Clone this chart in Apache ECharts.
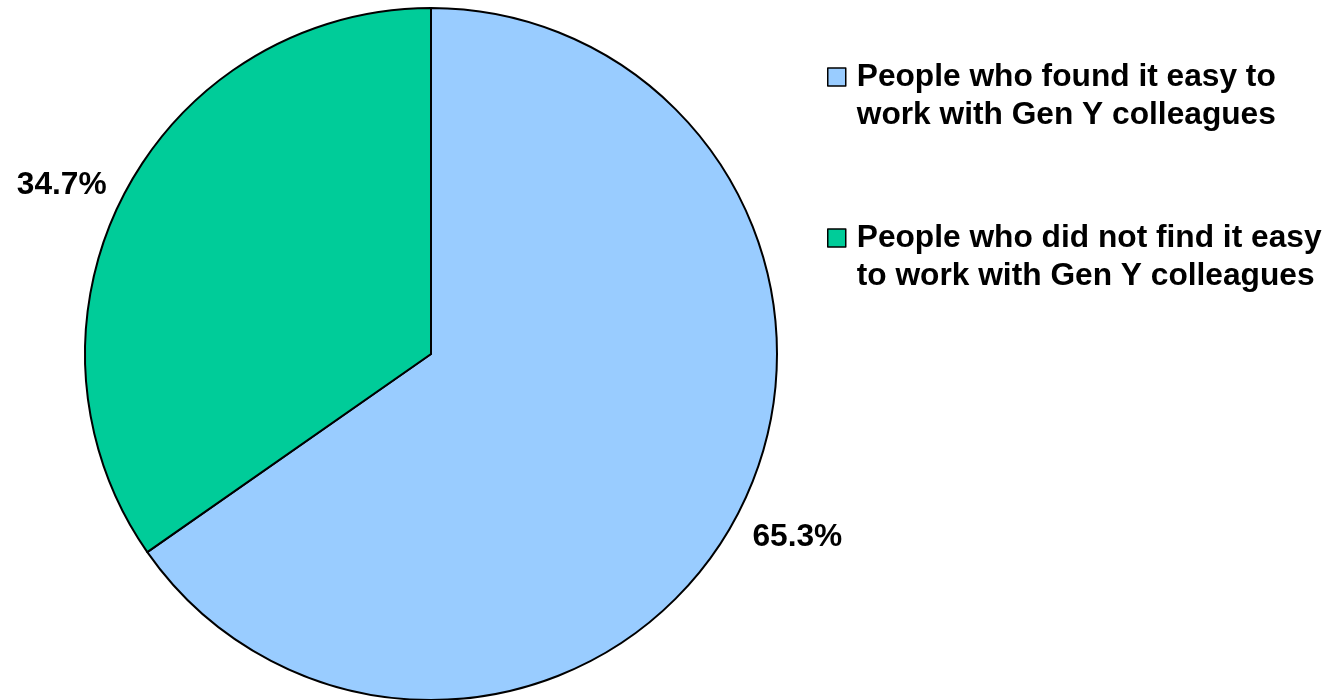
<!DOCTYPE html>
<html>
<head>
<meta charset="utf-8">
<script src="https://cdn.jsdelivr.net/npm/echarts@6/dist/echarts.min.js"></script>
<style>html,body{margin:0;padding:0;background:#fff;}#c{width:1331px;height:700px;}</style>
</head>
<body>
<div id="c"></div>
<script>
const categories = [
  'People who found it easy to\nwork with Gen Y colleagues',
  'People who did not find it easy\nto work with Gen Y colleagues'
];
const values = [65.3, 34.7];
const colors = ['#99CCFF', '#00CC99'];
const labelOffsets = [[-17, 9], [14, 5]];

const chart = echarts.init(document.getElementById('c'));
chart.setOption({
  animation: false,
  legend: {
    orient: 'vertical',
    left: 822,
    top: 15,
    itemWidth: 18,
    itemHeight: 18,
    itemGap: 47,
    icon: 'rect',
    itemStyle: { borderColor: '#000', borderWidth: 1.5 },
    formatter: n => ' \n' + n,
    textStyle: {
      fontFamily: 'Liberation Sans, Arial, sans-serif',
      fontWeight: 'bold',
      fontSize: 31.7,
      lineHeight: 38,
      color: '#000',
      padding: [0, 0, 0, 6]
    },
    data: categories
  },
  series: [{
    type: 'pie',
    center: [431, 354],
    radius: 346,
    startAngle: 90,
    clockwise: true,
    silent: true,
    itemStyle: { borderColor: '#000', borderWidth: 2 },
    label: {
      show: true,
      position: 'outside',
      overflow: 'none',
      formatter: p => p.value.toFixed(1) + '%',
      fontFamily: 'Liberation Sans, Arial, sans-serif',
      fontWeight: 'bold',
      fontSize: 31.7,
      color: '#000'
    },
    labelLine: { show: false, length: 30, length2: 0 },
    labelLayout: p => ({ dx: labelOffsets[p.dataIndex][0], dy: labelOffsets[p.dataIndex][1] }),
    data: categories.map((n, i) => ({ name: n, value: values[i], itemStyle: { color: colors[i] } }))
  }]
});
</script>
</body>
</html>
